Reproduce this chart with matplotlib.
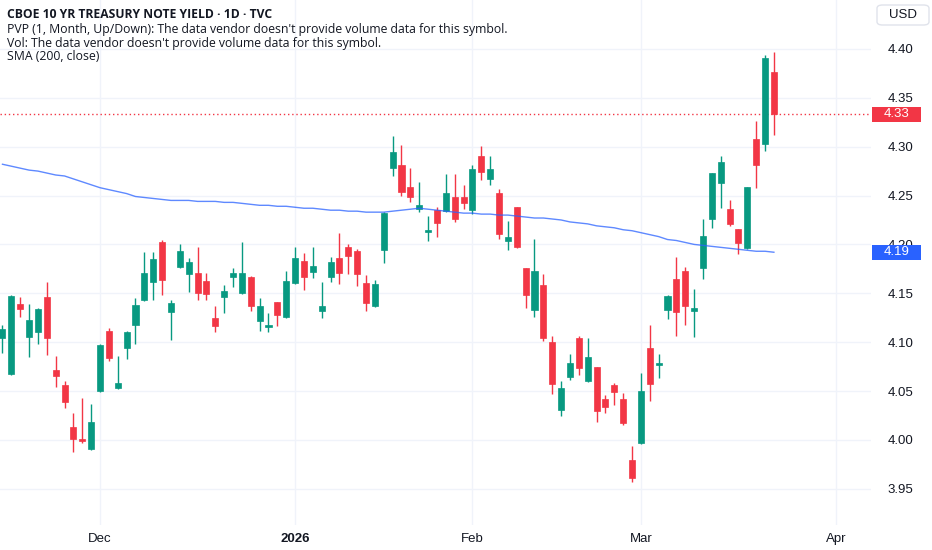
import matplotlib
matplotlib.use("Agg")
import matplotlib.pyplot as plt
from matplotlib.patches import Rectangle, FancyBboxPatch
from matplotlib.transforms import blended_transform_factory
import numpy as np

# ---------------- data ----------------
opens = [4.104, 4.067, 4.139, 4.105, 4.110, 4.146, 4.072, 4.056, 4.013, 4.000, 3.991,
         4.050, 4.111, 4.053, 4.094, 4.118, 4.143, 4.162, 4.202, 4.131, 4.177, 4.170,
         4.171, 4.163, 4.125, 4.146, 4.167, 4.150, 4.167, 4.122, 4.116, 4.141, 4.126,
         4.161, 4.183, 4.172, 4.132, 4.167, 4.186, 4.197, 4.193, 4.161, 4.137, 4.194,
         4.278, 4.281, 4.259, 4.236, 4.213, 4.235, 4.234, 4.248, 4.248, 4.235, 4.290,
         4.267, 4.253, 4.204, 4.238, 4.176, 4.133, 4.158, 4.100, 4.031, 4.064, 4.104,
         4.060, 4.075, 4.042, 4.056, 4.042, 3.979, 3.997, 4.094, 4.077, 4.133, 4.165,
         4.173, 4.132, 4.176, 4.226, 4.263, 4.236, 4.216, 4.196, 4.308, 4.303, 4.376]
highs = [4.118, 4.148, 4.146, 4.139, 4.135, 4.162, 4.086, 4.060, 4.028, 4.043, 4.037,
         4.098, 4.114, 4.086, 4.111, 4.145, 4.192, 4.192, 4.205, 4.143, 4.200, 4.186,
         4.197, 4.171, 4.137, 4.158, 4.176, 4.202, 4.168, 4.145, 4.130, 4.141, 4.173,
         4.197, 4.191, 4.197, 4.162, 4.187, 4.212, 4.200, 4.195, 4.169, 4.164, 4.233,
         4.311, 4.302, 4.278, 4.264, 4.229, 4.238, 4.272, 4.272, 4.261, 4.281, 4.301,
         4.290, 4.257, 4.224, 4.238, 4.176, 4.206, 4.170, 4.106, 4.060, 4.088, 4.106,
         4.104, 4.075, 4.046, 4.058, 4.048, 3.994, 4.068, 4.118, 4.088, 4.148, 4.187,
         4.177, 4.154, 4.226, 4.273, 4.290, 4.245, 4.216, 4.259, 4.326, 4.394, 4.397]
lows = [4.089, 4.066, 4.126, 4.085, 4.098, 4.087, 4.054, 4.033, 3.988, 3.997, 3.990,
        4.049, 4.081, 4.052, 4.083, 4.098, 4.142, 4.143, 4.148, 4.102, 4.176, 4.151,
        4.143, 4.143, 4.110, 4.130, 4.156, 4.149, 4.132, 4.111, 4.110, 4.117, 4.125,
        4.160, 4.153, 4.166, 4.125, 4.162, 4.160, 4.170, 4.157, 4.132, 4.136, 4.181,
        4.270, 4.250, 4.243, 4.233, 4.204, 4.208, 4.233, 4.223, 4.236, 4.231, 4.266,
        4.261, 4.206, 4.194, 4.196, 4.135, 4.126, 4.101, 4.047, 4.025, 4.061, 4.066,
        4.059, 4.018, 4.028, 4.036, 4.015, 3.957, 3.996, 4.040, 4.063, 4.124, 4.106,
        4.118, 4.105, 4.165, 4.217, 4.237, 4.219, 4.190, 4.195, 4.258, 4.296, 4.312]
closes = [4.113, 4.147, 4.134, 4.123, 4.134, 4.104, 4.065, 4.039, 4.001, 3.999, 4.018,
          4.097, 4.084, 4.058, 4.110, 4.138, 4.171, 4.185, 4.164, 4.140, 4.193, 4.182,
          4.150, 4.149, 4.117, 4.152, 4.171, 4.171, 4.137, 4.137, 4.118, 4.128, 4.163,
          4.186, 4.167, 4.178, 4.137, 4.182, 4.171, 4.188, 4.170, 4.140, 4.160, 4.232,
          4.295, 4.254, 4.248, 4.240, 4.215, 4.222, 4.253, 4.226, 4.242, 4.277, 4.274,
          4.277, 4.211, 4.208, 4.197, 4.148, 4.173, 4.104, 4.057, 4.053, 4.079, 4.074,
          4.085, 4.030, 4.034, 4.049, 4.017, 3.961, 4.050, 4.057, 4.079, 4.147, 4.131,
          4.137, 4.135, 4.209, 4.273, 4.284, 4.221, 4.201, 4.259, 4.281, 4.391, 4.333]
sma200 = [4.282, 4.280, 4.278, 4.276, 4.275, 4.273, 4.271, 4.270, 4.267, 4.264, 4.261,
          4.258, 4.256, 4.254, 4.252, 4.249, 4.248, 4.247, 4.246, 4.245, 4.245, 4.245,
          4.244, 4.244, 4.244, 4.243, 4.243, 4.242, 4.241, 4.240, 4.240, 4.239, 4.239,
          4.238, 4.237, 4.237, 4.236, 4.235, 4.235, 4.234, 4.234, 4.233, 4.233, 4.233,
          4.234, 4.235, 4.236, 4.237, 4.236, 4.235, 4.234, 4.233, 4.232, 4.232, 4.231,
          4.231, 4.230, 4.230, 4.229, 4.228, 4.227, 4.227, 4.226, 4.225, 4.223, 4.222,
          4.221, 4.219, 4.218, 4.217, 4.215, 4.214, 4.212, 4.210, 4.208, 4.205, 4.204,
          4.202, 4.200, 4.199, 4.198, 4.197, 4.196, 4.195, 4.194, 4.193, 4.193, 4.192]

month_tick_bars = [11, 33, 53, 72, 94]
month_tick_labels = ["Dec", "2026", "Feb", "Mar", "Apr"]
price_ticks = [3.95, 4.00, 4.05, 4.10, 4.15, 4.20, 4.25, 4.30, 4.35, 4.40]

title_line = "CBOE 10 YR TREASURY NOTE YIELD \u00b7 1D \u00b7 TVC"
legend_lines = [
    "PVP (1, Month, Up/Down): The data vendor doesn't provide volume data for this symbol.",
    "Vol: The data vendor doesn't provide volume data for this symbol.",
    "SMA (200, close)",
]
currency = "USD"

# ---------------- style ----------------
UP = "#089981"
DOWN = "#F23645"
SMA_C = "#2962FF"
TXT = "#131722"
GRID = "#F0F3FA"

W, H = 932, 550
fig = plt.figure(figsize=(W / 100, H / 100), dpi=100)
fig.patch.set_facecolor("white")
ax = fig.add_axes([0, 25 / H, 871 / W, 525 / H])
ax.set_facecolor("white")

o = np.array(opens); h = np.array(highs); l = np.array(lows); c = np.array(closes)
x = np.arange(len(o))
up = c >= o
cols = np.where(up, UP, DOWN)

# wicks
ax.vlines(x, l, h, colors=cols, linewidth=1.0, zorder=3)
# bodies
bottoms = np.minimum(o, c)
heights = np.maximum(np.abs(c - o), 0.0015)
ax.bar(x, heights, bottom=bottoms, width=0.68, color=cols, edgecolor=cols,
       linewidth=0.5, zorder=4)

# SMA
ax.plot(x, sma200, color=SMA_C, linewidth=1.0, alpha=0.75, zorder=5)

# last price dotted line
ax.axhline(closes[-1], color=DOWN, linestyle=(0, (1, 2)), linewidth=1.0, zorder=2)

ax.set_xlim(-0.28, 97.95)
ax.set_ylim(3.913, 4.450)

# grid
ax.set_yticks(price_ticks)
ax.set_xticks(month_tick_bars)
ax.grid(True, color=GRID, linewidth=1.0, zorder=0)
ax.set_axisbelow(True)
for s in ax.spines.values():
    s.set_visible(False)

ax.yaxis.tick_right()
ax.tick_params(axis="y", length=0, pad=12, labelsize=9.5, labelcolor=TXT)
ax.set_yticklabels([f"{v:.2f}" for v in price_ticks], family="Liberation Sans")
ax.tick_params(axis="x", length=0, pad=6, labelsize=9.5, labelcolor=TXT)
ax.set_xticklabels(month_tick_labels, family="Liberation Sans")
for lab in ax.get_xticklabels():
    if lab.get_text() == "2026":
        lab.set_fontweight("bold")

# price labels on axis
bt = blended_transform_factory(fig.transFigure, ax.transData)
for val, col in [(closes[-1], DOWN), (sma200[-1], SMA_C)]:
    rect = Rectangle((872 / W, val - 0.0075), 49 / W, 0.015, transform=bt,
                     facecolor=col, edgecolor="none", zorder=10, clip_on=False)
    fig.add_artist(rect)
    fig.text(896.5 / W, val, f"{val:.2f}", transform=bt, color="white",
             fontsize=9.5, family="Liberation Sans", ha="center", va="center",
             zorder=11)

# currency box
box = FancyBboxPatch((877 / W, 1 - 25 / H), 52 / W, 20 / H,
                     boxstyle="round,pad=0,rounding_size=0.006",
                     transform=fig.transFigure, facecolor="white",
                     edgecolor="#E0E3EB", linewidth=1.0, zorder=10)
fig.add_artist(box)
fig.text(903 / W, 1 - 15 / H, currency, color=TXT, fontsize=9.5,
         family="Liberation Sans", ha="center", va="center", zorder=11)

# header texts
fig.text(7 / W, 1 - 15 / H, title_line, color=TXT, fontsize=8.7, fontweight="bold",
         family="Open Sans", ha="left", va="center")
for i, t in enumerate(legend_lines):
    fig.text(7 / W, 1 - (29 + 14 * i) / H, t, color=TXT, fontsize=8.8,
             family="Open Sans", ha="left", va="center")

fig.savefig("out.png", dpi=100, facecolor="white")
